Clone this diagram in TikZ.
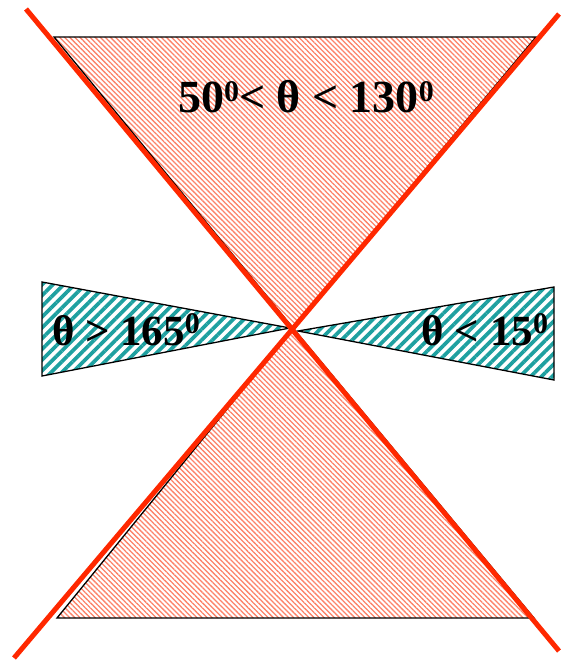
\documentclass[tikz,border=0pt]{standalone}
\usepackage{fontspec}
\setmainfont{Liberation Serif}
\usetikzlibrary{patterns.meta}
\definecolor{hatchred}{RGB}{252,130,105}
\definecolor{coneteal}{RGB}{30,160,160}
\definecolor{cutred}{RGB}{255,40,0}
\newcommand{\supzero}{\raisebox{11.5pt}{\fontsize{30}{30}\selectfont 0}}

\begin{document}
\begin{tikzpicture}[x=1pt, y=-1pt,
  redcone/.style={pattern={Lines[angle=-45, distance=3.6pt, line width=1.3pt]}, pattern color=hatchred},
  tealcone/.style={pattern={Lines[angle=45, distance=7.6pt, line width=3.8pt]}, pattern color=coneteal},
  rim/.style={draw=black, line width=1.3pt},
  cutline/.style={draw=cutred, line width=5pt},
  lbl/.style={font=\bfseries\fontsize{43}{50}\selectfont, inner sep=0pt, anchor=base},
]
\useasboundingbox (0,0) rectangle (560,660);

% apex of the cones
\coordinate (O) at (293,328);

% forward / backward cones
\filldraw[redcone, rim] (54,37) -- (536,37) -- (O) -- cycle;
\filldraw[redcone, rim] (57,618) -- (534,618) -- (O) -- cycle;
\filldraw[tealcone, rim] (42,282) -- (42,376) -- (290,328) -- cycle;
\filldraw[tealcone, rim] (554,287) -- (554,380) -- (298,331) -- cycle;

% cut lines
\coordinate (tl) at (26,9);
\coordinate (br) at (559,651);
\coordinate (tr) at (559,14);
\coordinate (bl) at (14,658);
\draw[cutline] (tl) -- (br);
\draw[cutline] (tr) -- (bl);

% labels
\node[lbl, font=\bfseries\fontsize{46}{52}\selectfont] (mid) at (306,113) {50\supzero< θ < 130\supzero};
\node[lbl] (back) at (126,345) {θ > 165\supzero};
\node[lbl] (fwd)  at (485,345) {θ < 15\supzero};
\end{tikzpicture}
\end{document}
